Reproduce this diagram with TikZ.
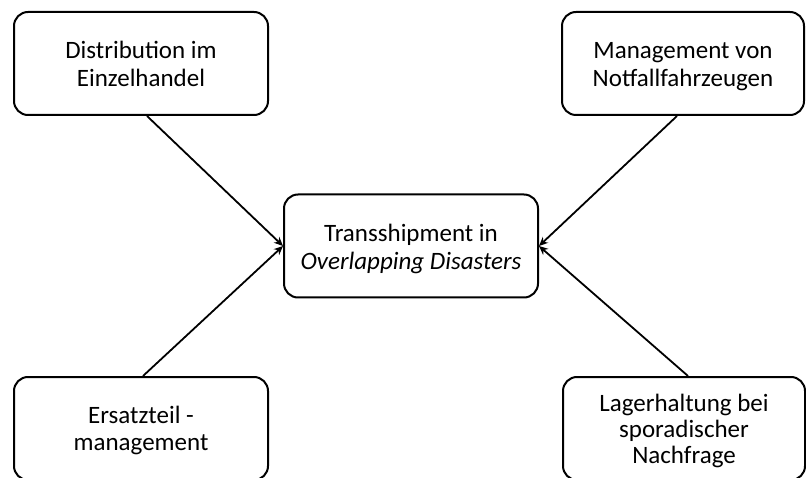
\documentclass[tikz,border=0pt]{standalone}
\usepackage{fontspec}
\setmainfont{Carlito}
\usetikzlibrary{arrows.meta}
\begin{document}
\begin{tikzpicture}[x=1pt,y=-1pt,
  topic/.style={draw=black, line width=2pt, rounded corners=14pt, fill=white,
    minimum width=254pt, minimum height=103pt, align=center,
    font=\fontsize{25}{28}\selectfont, inner sep=0pt,
    text depth=0pt, text height=47pt},
  tight/.style={font=\fontsize{25}{26}\selectfont},
  link/.style={line width=1.8pt, -{Stealth[length=9pt,width=8pt]}}]
  \useasboundingbox (0,0) rectangle (806,478);
  \clip (0,0) rectangle (806,478);
  \node[topic, text height=48pt] (center) at (411,246) {Transshipment in\\\textit{Overlapping Disasters}};
  \node[topic] (retail) at (141,63.5) {Distribution im\\Einzelhandel};
  \node[topic, minimum width=242pt] (vehicles) at (683,63.5) {Management von\\Notfallfahrzeugen};
  \node[topic, font=\fontsize{25}{27}\selectfont, text height=43pt] (spares) at (141,428.5) {Ersatzteil -\\management};
  \node[topic, tight, text height=69pt, minimum width=242pt] (stock) at (684,428.5) {Lagerhaltung bei\\sporadischer\\Nachfrage};
  \draw[link] ([xshift=6pt]retail.south) -- (center.west);
  \draw[link] ([xshift=2pt]spares.north) -- (center.west);
  \draw[link] ([xshift=-6pt]vehicles.south) -- (center.east);
  \draw[link] ([xshift=4pt]stock.north) -- (center.east);
\end{tikzpicture}
\end{document}
